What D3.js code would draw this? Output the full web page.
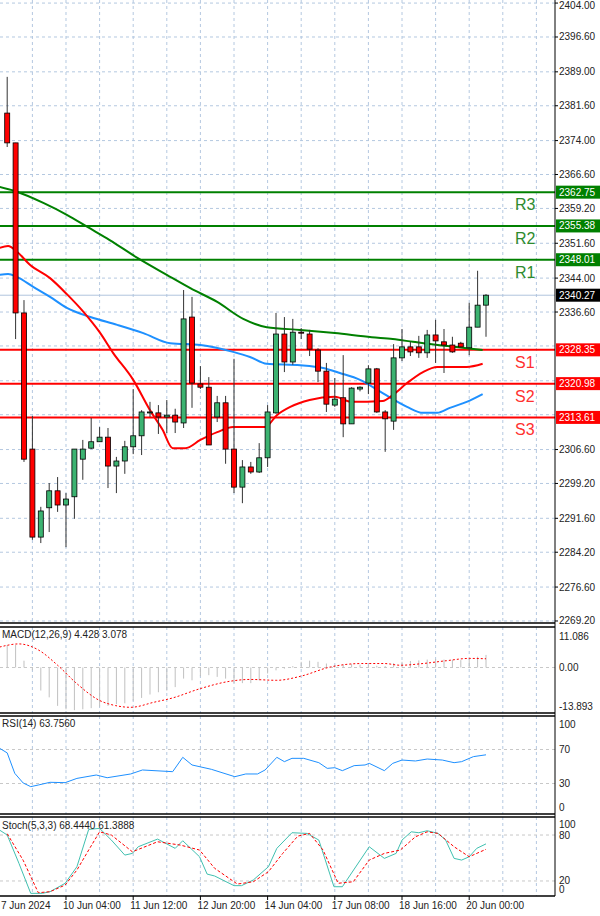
<!DOCTYPE html>
<html><head><meta charset="utf-8">
<script src="https://cdn.jsdelivr.net/npm/d3@7"></script>
<style>body{margin:0;background:#fff}svg{display:block}text{font-family:"Liberation Sans",Arial,sans-serif}</style>
</head><body><svg id="c" width="600" height="916"></svg>
<script>
const openP=[2380.0,2373.5,2336.4,2306.7,2287.5,2293.9,2297.6,2294.5,2296.3,2304.5,2306.9,2308.3,2309.3,2303.0,2304.1,2307.2,2309.6,2314.6,2314.6,2313.7,2314.1,2312.4,2335.5,2320.9,2320.2,2313.7,2316.8,2306.7,2298.4,2302.8,2301.7,2304.8,2314.6,2331.8,2325.7,2332.2,2331.8,2328.3,2323.7,2316.3,2317.9,2312.2,2319.8,2321.1,2324.2,2314.8,2312.8,2326.6,2329.0,2329.0,2327.7,2331.6,2330.1,2329.4,2329.8,2328.8,2333.3,2338.1];
const closeP=[2373.5,2336.4,2304.5,2287.5,2293.2,2297.6,2294.5,2295.8,2306.7,2306.7,2308.3,2309.3,2303.0,2304.1,2307.2,2309.6,2314.8,2314.8,2313.7,2314.1,2312.6,2335.1,2321.1,2320.2,2307.6,2316.8,2306.7,2298.4,2302.8,2301.7,2304.8,2314.8,2331.8,2325.7,2332.2,2332.0,2328.5,2323.7,2316.5,2317.6,2312.2,2320.0,2320.2,2324.2,2314.8,2313.3,2326.6,2329.0,2327.9,2327.7,2331.6,2330.3,2329.4,2327.9,2329.0,2333.3,2338.1,2340.27];
const highP=[2387.9,2373.5,2339.2,2313.9,2294.1,2299.3,2300.6,2297.1,2306.7,2308.7,2313.5,2311.5,2311.3,2305.0,2308.5,2319.8,2315.2,2317.0,2316.3,2317.4,2315.5,2341.4,2339.9,2324.8,2322.4,2318.3,2318.3,2326.4,2304.3,2303.9,2308.0,2316.3,2336.4,2335.5,2335.1,2333.1,2332.7,2328.7,2325.5,2322.2,2327.2,2320.2,2320.4,2325.0,2324.4,2315.2,2329.6,2332.9,2330.1,2331.4,2332.7,2334.9,2332.9,2331.2,2330.1,2338.6,2345.6,2340.5];
const lowP=[2372.6,2330.7,2303.9,2286.9,2286.2,2288.6,2293.0,2285.3,2291.5,2300.0,2306.7,2308.3,2298.2,2297.1,2301.3,2305.6,2305.4,2313.7,2310.0,2310.2,2310.2,2311.3,2315.7,2319.8,2307.6,2312.6,2303.5,2297.1,2294.9,2301.3,2301.5,2302.8,2314.4,2323.5,2325.1,2330.7,2327.0,2321.3,2314.8,2315.9,2309.3,2312.2,2319.3,2318.7,2314.6,2306.1,2310.9,2325.9,2327.0,2326.6,2326.6,2325.5,2323.3,2327.7,2328.8,2327.2,2333.3,2331.2];

const maGreen=[[-0.9,2363.9],[0.9,2363.0],[4.3,2360.4],[7.1,2357.8],[9.6,2355.1],[12.2,2352.3],[15.5,2348.4],[19,2344.7],[21.8,2341.8],[25,2338.8],[28.1,2335.1],[30.9,2333.3],[34.9,2332.7],[39,2332.0],[43.4,2331.1],[45.9,2330.7],[48.3,2330.1],[50.3,2329.6],[52.4,2329.2],[54.7,2328.7],[56.6,2328.3]];
const maRed=[[-0.9,2350.6],[0.1,2351.0],[1.2,2349.7],[2.7,2346.9],[5.1,2344.0],[7.1,2340.5],[9,2336.8],[11,2332.2],[12.6,2327.7],[15,2321.8],[17,2315.2],[18.5,2310.9],[19.7,2306.9],[21.2,2306.9],[23,2308.7],[25,2310.4],[26.9,2311.5],[30.7,2311.5],[32.1,2314.1],[33.7,2315.9],[36,2317.4],[39,2318.1],[41,2317.0],[44.7,2317.2],[45.9,2318.5],[47.6,2321.1],[49.5,2323.5],[51.2,2324.6],[54.7,2324.6],[56.6,2325.3]];
const maBlue=[[-0.9,2344.7],[0.1,2344.9],[1.2,2344.2],[3.1,2342.1],[5.1,2339.9],[7.1,2337.5],[9.9,2335.5],[13.1,2333.8],[16.2,2332.0],[19.4,2329.8],[23,2329.4],[26.9,2327.9],[28.9,2326.8],[30.9,2325.3],[34.9,2325.0],[37.6,2324.4],[39.6,2323.3],[42,2321.8],[44.7,2318.9],[47.6,2315.9],[49.5,2314.6],[51.2,2314.6],[52.7,2315.7],[54.7,2317.0],[56.6,2318.7]];

const levelNames=["R3","R2","R1","S1","S2","S3"];
const levelValues=[2362.75,2355.38,2348.01,2328.35,2320.98,2313.61];
const lastPrice=2340.27;
const priceTicks=[2404.00,2396.60,2389.00,2381.60,2374.00,2366.60,2359.20,2351.60,2344.00,2336.60,2306.60,2299.20,2291.60,2284.20,2276.60,2269.20];
const priceGrid=[2404.00,2396.60,2389.00,2381.60,2374.00,2366.60,2359.20,2351.60,2344.00,2336.60,2329.20,2321.60,2314.20,2306.60,2299.20,2291.60,2284.20,2276.60,2269.20];

const macdHist=[7.9,7.9,2.4,-1.0,-8.1,-10.5,-13.5,-14.7,-15.0,-14.7,-14.3,-13.8,-13.5,-12.9,-12.6,-11.7,-10.7,-9.5,-8.7,-8.1,-6.9,-3.9,-4.5,-3.1,-2.7,-3.3,-3.9,-5.5,-5.5,-5.5,-4.5,-2.1,-1.0,-0.4,0.5,2.0,2.4,2.0,1.4,0.8,1.0,1.2,1.0,0.8,0.6,0.5,1.5,2.0,2.3,2.5,2.8,3.0,2.8,2.7,2.6,3.0,3.8,4.43];
const macdSignal=[[-0.9,7.2],[1.4,8.3],[3.7,6.2],[6.0,0.8],[8.3,-5.7],[11.0,-11.6],[12.9,-13.4],[14.7,-14.0],[17.5,-12.2],[19.7,-10.7],[22.9,-7.5],[26.6,-4.8],[28.9,-4.2],[32.1,-4.5],[34.9,-3.1],[38.5,0.2],[42.2,1.4],[44.9,1.4],[46.8,0.8],[49.5,1.4],[52.3,2.4],[55.0,3.2],[57,3.08]];
const rsi=[[-0.9,71.4],[0,66],[0.9,42],[1.9,30.6],[2.8,26.3],[3.7,28.2],[5.1,31.4],[6.9,31],[8.3,36],[10.6,40],[11.9,36.8],[14.7,41.2],[16.1,45.9],[19.7,43.9],[20.9,60.8],[22,51.8],[24.3,46.7],[27.1,38],[28.4,41.2],[29.8,41.2],[30.7,45.9],[32.1,60.8],[33,55.7],[33.9,59.6],[35.3,59.6],[37.1,54.5],[38.1,47.8],[39,48.6],[39.9,45.1],[41.3,51],[42.6,51.8],[43.1,53.7],[44.9,45.1],[45.9,53.7],[47,57.6],[48.6,56.5],[50,58.8],[51.8,57.6],[53.2,54.5],[54.1,55.7],[55.5,61.6],[57,63.76]];
const stochK=[[-0.9,86.4],[0,80],[1.4,43],[2.8,3.9],[4.2,3.9],[5.1,6],[6.9,17],[8.3,38.6],[9.7,87.3],[11,88.7],[12.4,73.4],[14,53.8],[14.9,56],[15.6,64.7],[17.9,74.7],[20,62.6],[20.9,72.5],[22.9,51.6],[23.8,29],[24.7,26.5],[27,13.9],[27.9,13.9],[29.3,21.3],[31.1,38.6],[32.1,62.6],[33.9,83],[35.7,82.1],[37.1,73.4],[38.9,12.5],[39.9,12.5],[43.1,64.7],[44.9,49.5],[46.3,56],[47,73.4],[48.1,84.2],[49,83],[50,85.6],[51.3,82.1],[52.2,73.4],[53.2,49.5],[54.1,47.3],[55,51.6],[55.9,62.6],[57,68.44]];
const stochD=[[0,81.7],[1.9,47],[3.7,4.7],[5.1,6],[6.9,14.7],[8.3,34.3],[9.7,60.4],[11,84.2],[12.4,80],[14.9,58.1],[17.9,71.2],[20.6,66.9],[22.9,60.4],[24.7,36.5],[27.4,16],[29.3,19],[31.1,32.1],[32.8,56],[34.6,78.6],[36,82.1],[37.6,60.4],[39.4,17],[41.2,19],[43.1,47.3],[44.9,56],[46.8,60.4],[48.6,77.7],[50,84.2],[51.3,82.1],[53.2,64.7],[55,51.6],[57,61.39]];
const timeLabels=["7 Jun 2024","10 Jun 04:00","11 Jun 12:00","12 Jun 20:00","14 Jun 04:00","17 Jun 08:00","18 Jun 16:00","20 Jun 00:00"];
const timeLabelIdx=[-1,7,15,23,31,39,47,55];

const svg=d3.select("#c");
const W=555;
const x=d3.scaleLinear().domain([-0.857,65.214]).range([0,W]);
const y=d3.scaleLinear().domain([2268.76,2404.67]).range([623,0]);
const yM=d3.scaleLinear().domain([-13.893,11.086]).range([707,636]);
const yR=d3.scaleLinear().domain([0,100]).range([809,724]);
const yS=d3.scaleLinear().domain([0,100]).range([896.3,819.7]);
const gridC="#b4c8e0";
const panels=[[0,623],[627,713],[716,814],[817,896]];
const vIdx=d3.range(3,66,4);
const tf="10px";

panels.forEach(([t,b])=>{
  svg.append("g").selectAll("line").data(vIdx).join("line")
   .attr("x1",d=>x(d)).attr("x2",d=>x(d)).attr("y1",t).attr("y2",b)
   .attr("stroke",gridC).attr("stroke-dasharray","3,3");
});
svg.append("g").selectAll("line").data(priceGrid).join("line").attr("x1",0).attr("x2",W)
 .attr("y1",d=>y(d)).attr("y2",d=>y(d)).attr("stroke",gridC).attr("stroke-dasharray","3,3");
[[yM,[0]],[yR,[70,30]],[yS,[80,20]]].forEach(([s,v])=>{
  svg.append("g").selectAll("line").data(v).join("line").attr("x1",0).attr("x2",W)
   .attr("y1",d=>s(d)).attr("y2",d=>s(d)).attr("stroke","#c8c8c8").attr("stroke-dasharray","3,3");
});
svg.append("line").attr("x1",0).attr("x2",W).attr("y1",y(lastPrice)).attr("y2",y(lastPrice)).attr("stroke","#b0c4de");

levelValues.forEach((v,k)=>{
  const col=levelNames[k][0]==="R"?"#008000":"#ff0000";
  svg.append("line").attr("x1",0).attr("x2",W).attr("y1",y(v)).attr("y2",y(v)).attr("stroke",col).attr("stroke-width",2);
  svg.append("text").attr("x",515).attr("y",y(v)+18).attr("font-size","16px").attr("fill",levelNames[k][0]==="R"?"#2e8b2e":"#ff3030").text(levelNames[k]);
});

const ln=d3.line().x(d=>x(d[0])).curve(d3.curveMonotoneX);
[[maGreen,"#008000"],[maBlue,"#1e90ff"],[maRed,"#ff0000"]].forEach(([d,c])=>{
  svg.append("path").attr("d",ln.y(p=>y(p[1]))(d)).attr("fill","none").attr("stroke",c).attr("stroke-width",2);
});

const idx=d3.range(openP.length);
const cg=svg.append("g");
cg.selectAll("line").data(idx).join("line").attr("x1",i=>x(i)).attr("x2",i=>x(i))
 .attr("y1",i=>y(Math.max(highP[i],openP[i],closeP[i]))).attr("y2",i=>y(Math.min(lowP[i],openP[i],closeP[i])))
 .attr("stroke","#333");
cg.selectAll("rect").data(idx).join("rect").attr("x",i=>x(i)-2.5).attr("width",5)
 .attr("y",i=>y(Math.max(openP[i],closeP[i]))).attr("height",i=>Math.max(1,y(Math.min(openP[i],closeP[i]))-y(Math.max(openP[i],closeP[i]))))
 .attr("fill",i=>closeP[i]>=openP[i]?"#3cb371":"#ff0000").attr("stroke","#000").attr("stroke-width",0.8);

svg.append("g").selectAll("line").data(macdHist).join("line").attr("x1",(d,i)=>x(i)).attr("x2",(d,i)=>x(i))
 .attr("y1",yM(0)).attr("y2",d=>yM(d)).attr("stroke","#c0c0c0");
svg.append("path").attr("d",ln.y(p=>yM(p[1]))(macdSignal)).attr("fill","none").attr("stroke","#ff0000").attr("stroke-dasharray","2,2");
svg.append("path").attr("d",ln.y(p=>yR(p[1])).curve(d3.curveLinear)(rsi)).attr("fill","none").attr("stroke","#1e90ff");
svg.append("path").attr("d",ln.y(p=>yS(p[1]))(stochK)).attr("fill","none").attr("stroke","#40c0b0");
svg.append("path").attr("d",ln.y(p=>yS(p[1]))(stochD)).attr("fill","none").attr("stroke","#ff0000").attr("stroke-dasharray","3,2");

svg.append("rect").attr("x",W+1).attr("y",0).attr("width",600-W).attr("height",916).attr("fill","#fff");
panels.forEach(([t,b],k)=>{
  if(k>0) svg.append("line").attr("x1",0).attr("x2",W).attr("y1",t).attr("y2",t).attr("stroke","#000").attr("stroke-width",1.5);
  svg.append("line").attr("x1",0).attr("x2",W).attr("y1",b).attr("y2",b).attr("stroke","#000").attr("stroke-width",1.5);
});
svg.append("line").attr("x1",W).attr("x2",W).attr("y1",0).attr("y2",896).attr("stroke","#000");

const ax=svg.append("g");
ax.selectAll("text").data(priceTicks).join("text").attr("x",W+4).attr("y",d=>Math.max(y(d)+3.5,9)).attr("font-size",tf).attr("fill","#222").text(d=>d.toFixed(2));
ax.selectAll("line").data(priceTicks).join("line").attr("x1",W).attr("x2",W+3).attr("y1",d=>y(d)).attr("y2",d=>y(d)).attr("stroke","#000");
function tag(v,bg){
  svg.append("rect").attr("x",W+1).attr("y",y(v)-6.5).attr("width",44).attr("height",13).attr("fill",bg);
  svg.append("text").attr("x",W+4).attr("y",y(v)+3.5).attr("font-size",tf).attr("fill","#fff").text(v.toFixed(2));
}
levelValues.forEach((v,k)=>tag(v,levelNames[k][0]==="R"?"#008000":"#ff0000"));
tag(lastPrice,"#000");
[[yM,[11.086,0,-13.893],d=>d===0?"0.00":d.toFixed(3),[627,713]],[yR,[100,70,30,0],d=>d,[716,814]],[yS,[100,80,20,0],d=>d,[817,896]]].forEach(([s,v,f,pb])=>{
  svg.append("g").selectAll("text").data(v).join("text").attr("x",W+4)
   .attr("y",d=>Math.min(Math.max(s(d)+3.5,pb[0]+11),pb[1]-3)).attr("font-size",tf).attr("fill","#222").text(f);
});
[["MACD(12,26,9) 4.428 3.078",638],["RSI(14) 63.7560",727],["Stoch(5,3,3) 68.4440 61.3888",829]].forEach(([t,yy])=>{
  svg.append("text").attr("x",2).attr("y",yy).attr("font-size",tf).attr("fill","#222").text(t);
});
svg.append("g").selectAll("text").data(timeLabels).join("text").attr("x",(d,i)=>Math.max(x(timeLabelIdx[i])-3,1)).attr("y",909)
 .attr("font-size",tf).attr("fill","#222").text(d=>d);
svg.append("g").selectAll("line").data(timeLabelIdx).join("line").attr("x1",d=>x(d)).attr("x2",d=>x(d)).attr("y1",896).attr("y2",900).attr("stroke","#000");
</script></body></html>
